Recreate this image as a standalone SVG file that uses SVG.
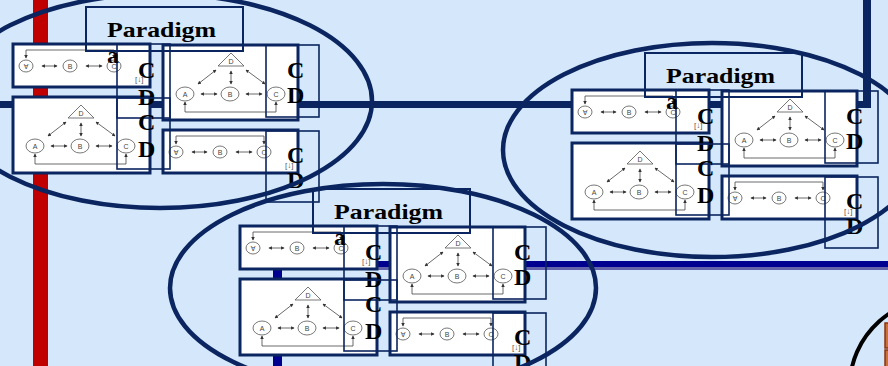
<svg xmlns="http://www.w3.org/2000/svg" xmlns:xlink="http://www.w3.org/1999/xlink" width="888" height="366" viewBox="0 0 888 366">
<style>
.img{fill:#fff;stroke:#0a2560;stroke-width:3}
.lbl{fill:none;stroke:#0a2560;stroke-width:1.6}
.pbox{fill:none;stroke:#0a2560;stroke-width:2}
.big{font-family:"Liberation Serif",serif;font-weight:bold;font-size:24px;fill:#000}
.ptitle{font-family:"Liberation Serif",serif;font-weight:bold;font-size:21px;fill:#000}
.ln{fill:none;stroke:#444;stroke-width:0.8}
.cir{fill:#fff;stroke:#555;stroke-width:0.8}
.sm{font-family:"Liberation Sans",sans-serif;font-size:7px;fill:#444;text-anchor:middle}
.tag{font-family:"Liberation Sans",sans-serif;font-size:8px;fill:#555}
.ell{fill:none;stroke:#0a2560;stroke-width:4.5}
</style>
<defs>
<marker id="ah" viewBox="0 0 6 6" refX="5" refY="3" markerWidth="3.5" markerHeight="3.5" markerUnits="userSpaceOnUse" orient="auto-start-reverse"><path d="M0,0 L6,3 L0,6 z" fill="#333"/></marker>
<g id="chain">
<path class="ln" d="M13,14 V6 H101 V14" marker-start="url(#ah)" marker-end="url(#ah)"/>
<line class="ln" x1="29" y1="22" x2="44" y2="22" marker-start="url(#ah)" marker-end="url(#ah)"/>
<line class="ln" x1="73" y1="22" x2="89" y2="22" marker-start="url(#ah)" marker-end="url(#ah)"/>
<ellipse class="cir" cx="13" cy="22" rx="7" ry="6"/>
<ellipse class="cir" cx="57" cy="22" rx="7" ry="6"/>
<ellipse class="cir" cx="101" cy="22" rx="7" ry="6"/>
<text class="sm" transform="translate(13,22) scale(1,-1)" y="2.5">A</text>
<text class="sm" x="57" y="24.5">B</text>
<text class="sm" transform="translate(101,22) scale(1,-1)" y="2.5">C</text>
<text class="tag" x="122" y="38">[↓]</text>
</g>
<g id="tri">
<polygon points="68,8 55,21 81,21" fill="#fff" stroke="#555" stroke-width="0.8"/>
<text class="sm" x="68" y="19">D</text>
<line class="ln" x1="38" y1="49" x2="54" y2="49" marker-start="url(#ah)" marker-end="url(#ah)"/>
<line class="ln" x1="83" y1="49" x2="99" y2="49" marker-start="url(#ah)" marker-end="url(#ah)"/>
<line class="ln" x1="53" y1="25" x2="35" y2="39" marker-start="url(#ah)" marker-end="url(#ah)"/>
<line class="ln" x1="83" y1="25" x2="102" y2="39" marker-start="url(#ah)" marker-end="url(#ah)"/>
<line class="ln" x1="68" y1="26" x2="68" y2="39" marker-start="url(#ah)" marker-end="url(#ah)"/>
<path class="ln" d="M22,57 V67 H113 V57" marker-start="url(#ah)" marker-end="url(#ah)"/>
<ellipse class="cir" cx="22" cy="49" rx="9" ry="7"/>
<ellipse class="cir" cx="67" cy="49" rx="9" ry="7"/>
<ellipse class="cir" cx="113" cy="49" rx="9" ry="7"/>
<text class="sm" x="22" y="51.5">A</text>
<text class="sm" x="67" y="51.5">B</text>
<text class="sm" x="113" y="51.5">C</text>
</g>
<g id="cluster">
<g class="image"><rect class="img" x="13" y="44" width="137" height="43"/><use xlink:href="#chain" transform="translate(13,44)"/></g>
<g class="image"><rect class="img" x="13" y="97" width="137" height="76"/><use xlink:href="#tri" transform="translate(13,97)"/></g>
<g class="image"><rect class="img" x="163" y="45" width="135" height="75"/><use xlink:href="#tri" transform="translate(163,45)"/></g>
<g class="image"><rect class="img" x="163" y="130" width="135" height="43"/><use xlink:href="#chain" transform="translate(163,130)"/></g>
<g class="label"><rect class="lbl" x="117" y="44" width="53" height="74"/><text class="big" x="138" y="78">C</text><text class="big" x="138" y="105">D</text></g>
<g class="label"><rect class="lbl" x="117" y="98" width="53" height="71"/><text class="big" x="138" y="130">C</text><text class="big" x="138" y="157">D</text></g>
<g class="label"><rect class="lbl" x="266" y="45" width="53" height="72"/><text class="big" x="287" y="78">C</text><text class="big" x="287" y="103">D</text></g>
<g class="label"><rect class="lbl" x="266" y="131" width="53" height="71"/><text class="big" x="287" y="163">C</text><text class="big" x="287" y="188">D</text></g>
<g class="title"><rect class="pbox" x="86" y="7" width="157" height="44"/><text class="ptitle" x="107" y="37" textLength="109" lengthAdjust="spacingAndGlyphs">Paradigm</text></g>
<text class="big" x="107" y="63">a</text>
</g>
</defs>
<rect width="888" height="366" fill="#d5e8fb"/>
<g id="connectors">
<rect x="33" y="0" width="15" height="366" fill="#c00000"/>
<rect x="0" y="101" width="871" height="7" fill="#0a2560"/>
<rect x="863" y="0" width="8" height="108" fill="#0a2560"/>
<rect x="273" y="261" width="615" height="6" fill="#000090"/>
<rect x="273" y="267" width="615" height="3" fill="#6464aa"/>
<rect x="273" y="261" width="9" height="105" fill="#000090"/>
</g>
<g id="paradigm-top-left"><use xlink:href="#cluster"/></g>
<g id="paradigm-right"><use xlink:href="#cluster" transform="translate(559,46)"/></g>
<g id="paradigm-bottom"><use xlink:href="#cluster" transform="translate(227,182)"/></g>
<g id="groups">
<ellipse class="ell" cx="160" cy="101" rx="212" ry="107"/>
<ellipse class="ell" cx="712" cy="150" rx="209" ry="107"/>
<ellipse class="ell" cx="383" cy="288" rx="213" ry="104"/>
</g>
<g id="corner-node">
<ellipse cx="950" cy="385" rx="100" ry="90" fill="none" stroke="#000" stroke-width="4"/>
<rect x="885" y="323" width="8" height="25" fill="#c8703e" stroke="#8b3510" stroke-width="1.5"/>
<rect x="885" y="350" width="8" height="20" fill="#c8703e" stroke="#8b3510" stroke-width="1.5"/>
</g>
</svg>
